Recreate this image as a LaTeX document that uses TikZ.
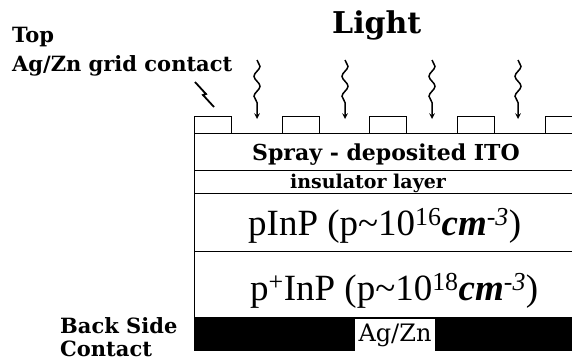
\documentclass[tikz,border=0pt]{standalone}
\usepackage{fontspec}
\setmainfont{Liberation Serif}
\newfontfamily\slabfont{DejaVu Serif}
\usetikzlibrary{decorations.pathmorphing}
\begin{document}
\begin{tikzpicture}[x=1pt, y=-1pt]
        \tikzstyle{lbl} = [font=\slabfont\bfseries\fontsize{21}{21}\selectfont, inner sep=0pt]
        \tikzstyle{dop} = [font=\fontsize{37}{37}\selectfont, inner sep=0pt]
        \tikzstyle{layer} = [draw, line width=1pt]
        \tikzstyle{ray} = [->, >=stealth, line width=1.5pt, decorate, decoration={snake, amplitude=3pt, segment length=20pt, post length=9pt}]
        \useasboundingbox (0,0) rectangle (572,362);
        % cell stack
        \draw[layer] (194,133) rectangle (600,170);
        \draw[layer] (194,170) rectangle (600,193);
        \draw[layer] (194,193) rectangle (600,251);
        \draw[layer] (194,251) rectangle (600,317);
        \fill (194,317) rectangle (600,351);
        % grid fingers
        \foreach \x in {194, 282, 369, 457, 545}
          \draw[layer] (\x,116) rectangle ++(37,17);
        % light rays
        \foreach \x [count=\i] in {257, 345, 432, 518} {
          \coordinate (rs\i) at (\x,60);
          \coordinate (re\i) at (\x,119);
          \draw[ray] (rs\i) -- (re\i);
        }
        % labels
        \node[lbl, anchor=base west] (top) at (12,42) {Top};
        \node[lbl, anchor=base west] (grid) at (12,71) {Ag/Zn grid contact};
        \node[lbl, font=\slabfont\bfseries\fontsize{30}{30}\selectfont, anchor=base west] (light) at (332,33) {Light};
        \node[lbl, anchor=base west] (back) at (60,333) {Back Side};
        \node[lbl, anchor=base west] (contact) at (60,356) {Contact};
        \coordinate (gs) at (195,82);
        \coordinate (ge) at (214,107);
        \draw[line width=1.8pt] (gs) -- ++(11,12) -- ++(-3,1) -- (ge);
        % layer texts
        \node[lbl, font=\slabfont\bfseries\fontsize{22}{22}\selectfont, anchor=base] (ito) at (386,160) {Spray - deposited ITO};
        \node[lbl, font=\slabfont\bfseries\fontsize{19}{19}\selectfont, anchor=base] (ins) at (368,188) {insulator layer};
        \node[dop, anchor=base west] (pinp) at (248,235) {pInP (p\textasciitilde 10\textsuperscript{16}\textbf{\textit{cm}}\textsuperscript{\textit{-3}})};
        \node[dop, anchor=base west] (ppinp) at (250,300) {p\textsuperscript{+}InP (p\textasciitilde 10\textsuperscript{18}\textbf{\textit{cm}}\textsuperscript{\textit{-3}})};
        \node[fill=white, minimum width=80, minimum height=32, inner sep=0pt, font=\slabfont\fontsize{24}{24}\selectfont] (agzn) at (395,335) {Ag/Zn};
      \end{tikzpicture}
\end{document}
